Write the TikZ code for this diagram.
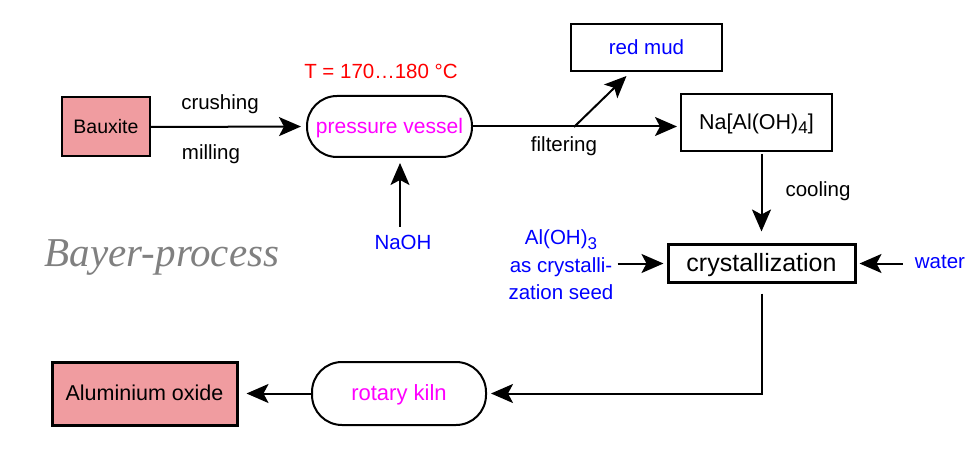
\documentclass[tikz,border=0pt]{standalone}
\usepackage{fontspec}
\setmainfont{Liberation Sans}
\newfontfamily\serifit{Liberation Serif}
\usetikzlibrary{arrows.meta}
\definecolor{pinkfill}{RGB}{240,156,160}
\definecolor{mag}{RGB}{255,0,255}
\definecolor{blu}{RGB}{0,0,255}
\definecolor{rd}{RGB}{255,0,0}
\definecolor{greytxt}{RGB}{128,128,128}
\newcommand{\chemsub}[1]{\raisebox{-4.5pt}{\fontsize{17}{17}\selectfont #1}}
\begin{document}
\begin{tikzpicture}[x=1pt,y=-1pt,
  txt/.style={font=\fontsize{20.5}{24}\selectfont, inner sep=0pt, text height=14pt, text depth=0pt},
  box/.style={draw, line width=2pt, inner sep=0pt, txt},
  pill/.style={box, rounded corners=30pt},
  arr/.style={-{Stealth[length=22pt,width=19pt,inset=5pt]}, line width=2pt},
  plain/.style={line width=2pt}
]
\useasboundingbox (0,0) rectangle (980,457);

% nodes
\node[box, fill=pinkfill, minimum width=88pt, minimum height=59pt, font=\fontsize{19.5}{23}\selectfont, text height=13.5pt] (baux) at (106,127) {Bauxite};
\node[pill, minimum width=165pt, minimum height=61pt, text=mag, font=\fontsize{21}{25}\selectfont] (pv) at (389.5,126.5) {pressure vessel};
\node[txt, text=rd] (temp) at (381,72) {T = 170…180 °C};
\node[txt] (crush) at (220,103) {crushing};
\node[txt] (mill) at (211,153) {milling};
\node[txt, text=blu] (naoh) at (403,243) {NaOH};
\node[box, minimum width=151pt, minimum height=47pt, text=blu] (mud) at (646.5,47.5) {red mud};
\node[box, minimum width=151pt, minimum height=57pt, font=\fontsize{21.5}{25}\selectfont] (na) at (756.5,122.5) {Na[Al(OH)\chemsub{4}]};
\node[txt] (filt) at (564,145) {filtering};
\node[txt] (cool) at (818,190) {cooling};
\node[box, line width=3pt, minimum width=187pt, minimum height=37pt, font=\fontsize{25}{30}\selectfont, text height=17pt] (cry) at (761.5,263.5) {crystallization};
\node[inner sep=0pt, text=blu, align=center, font=\fontsize{20.5}{27.5}\selectfont] (seed) at (561,265) {Al(OH)\chemsub{3}\\as crystalli-\\zation seed};
\node[txt, text=blu] (water) at (940,262) {water};
\node[pill, minimum width=174pt, minimum height=63pt, text=mag, font=\fontsize{22}{26}\selectfont] (kiln) at (399,393.5) {rotary kiln};
\node[box, line width=3pt, fill=pinkfill, minimum width=185pt, minimum height=63pt, font=\fontsize{21.5}{25}\selectfont] (oxide) at (144.5,393.5) {Aluminium oxide};
\node[font=\serifit\itshape\fontsize{41}{48}\selectfont, text=greytxt, inner sep=0pt, text height=20pt, text depth=0pt] (title) at (162,256) {Bayer-process};

% connectors
\draw[arr, shorten >=5pt] (baux.east) -- (pv.west);
\draw[arr, shorten <=9pt, shorten >=5pt] ([xshift=-3pt]naoh.north) -- ([xshift=10.5pt]pv.south);
\draw[arr, shorten >=3pt] (pv.east) -- (pv.east -| na.west);
\coordinate (br) at (574,127);
\draw[arr] (br) -- ([xshift=-20pt,yshift=-4pt]mud.south);
\draw[arr, shorten <=2pt, shorten >=12pt] (na.south -| cry.north) -- (cry.north);
\draw[arr, shorten <=4pt, shorten >=3pt] (seed.east |- cry.west) -- (cry.west);
\draw[arr, shorten <=12pt, shorten >=3pt] (water.west |- cry.east) -- (cry.east);
\draw[arr, shorten <=10pt, shorten >=4pt] (cry.south) |- (kiln.east);
\draw[arr, shorten >=8pt] (kiln.west) -- (oxide.east);
\end{tikzpicture}
\end{document}
